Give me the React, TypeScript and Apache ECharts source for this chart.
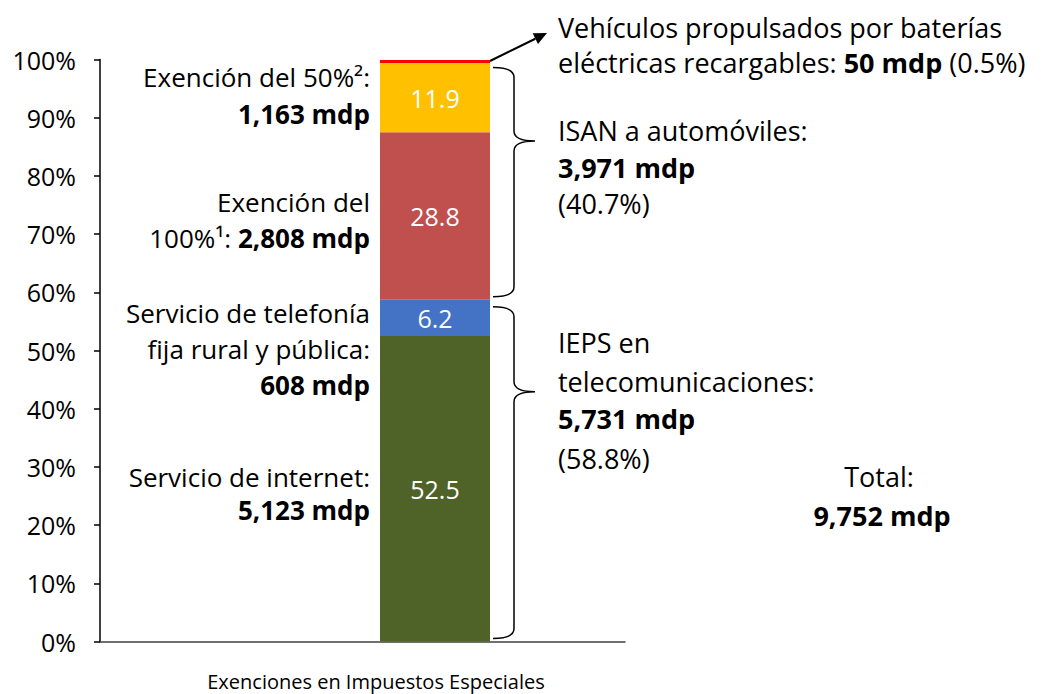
import React, { useEffect, useRef } from 'react';
import * as echarts from 'echarts';

const categories = ['Exenciones en Impuestos Especiales'];
const segmentNames = [
  'Servicio de internet',
  'Servicio de telefonía fija rural y pública',
  'Exención del 100%',
  'Exención del 50%',
  'Vehículos propulsados por baterías eléctricas recargables',
];
const shares = [52.5, 6.2, 28.8, 11.9, 0.5];
const showLabel = [true, true, true, true, false];
const segmentColors = ['#4F6228', '#4472C4', '#C0504D', '#FFC000', '#FF0000'];
const yMin = 0;
const yMax = 100;
const yInterval = 10;

const FONT = '"Open Sans", Lato, sans-serif';
const FS_AXIS = 25;
const FS_X = 20;
const FS_LEFT = 26;
const FS_RIGHT = 27;

export default function App() {
  const ref = useRef<HTMLDivElement>(null);
  useEffect(() => {
    document.body.style.margin = '0';
    const chart = echarts.init(ref.current!, null, { renderer: 'svg' });
    const gridTop = 59.5;
    const gridHeight = 582;
    chart.setOption({
      animation: false,
      backgroundColor: '#fff',
      grid: [
        { left: 100, top: gridTop, width: 525, height: gridHeight },
        { left: 380, top: gridTop, width: 110, height: gridHeight },
      ],
      xAxis: [
        {
          type: 'category',
          gridIndex: 0,
          data: categories,
          axisLine: { show: true, lineStyle: { color: '#404040', width: 1.5 } },
          axisTick: { show: false },
          axisLabel: {
            color: '#000',
            fontFamily: FONT,
            fontSize: FS_X,
            margin: 30,
            padding: [0, 0, 0, 27],
          },
        },
        { type: 'category', gridIndex: 1, data: categories, show: false },
      ],
      yAxis: [
        {
          type: 'value',
          gridIndex: 0,
          min: yMin,
          max: yMax,
          interval: yInterval,
          axisLine: { show: true, lineStyle: { color: '#000', width: 1.5 } },
          axisTick: { show: true, length: 6, lineStyle: { color: '#000', width: 1.5 } },
          splitLine: { show: false },
          axisLabel: {
            formatter: '{value}%',
            color: '#000',
            fontFamily: FONT,
            fontSize: FS_AXIS,
            margin: 24,
          },
        },
        { type: 'value', gridIndex: 1, min: yMin, max: yMax, show: false },
      ],
      series: shares.map((v, i) => ({
        name: segmentNames[i],
        type: 'bar',
        xAxisIndex: 1,
        yAxisIndex: 1,
        stack: 'total',
        barWidth: '100%',
        data: [v],
        itemStyle: { color: segmentColors[i] },
        label: {
          show: showLabel[i],
          position: 'inside',
          color: '#fff',
          fontFamily: FONT,
          fontSize: FS_AXIS,
          formatter: (p: any) => p.value.toFixed(1),
        },
      })),
    });

    const py = (v: number) =>
      (chart.convertToPixel({ xAxisIndex: 1, yAxisIndex: 1 }, [0, v]) as number[])[1];
    const cum: number[] = [];
    shares.reduce((a, v, i) => ((cum[i] = a + v), a + v), 0);
    const barRight = 490;

    const braceD = (yT: number, yB: number, tipFrac: number) => {
      const x0 = barRight + 3;
      const xm = x0 + 21;
      const xt = xm + 21;
      const r = 10;
      const yTip = yT + (yB - yT) * tipFrac;
      return `M${x0} ${yT} Q${xm} ${yT} ${xm} ${yT + r} L${xm} ${yTip - r} Q${xm} ${yTip} ${xt} ${yTip} Q${xm} ${yTip} ${xm} ${yTip + r} L${xm} ${yB - r} Q${xm} ${yB} ${x0} ${yB}`;
    };
    const topY = py(100);
    const midY = py(cum[1]);
    const botY = py(0);
    echarts.graphic.registerShape('braceA', echarts.graphic.extendPath(braceD(topY + 8, midY - 3, 0.32), {}));
    echarts.graphic.registerShape('braceB', echarts.graphic.extendPath(braceD(midY + 7, botY - 3, 0.256), {}));

    const ax0 = barRight, ay0 = py(100) + 1.5;
    const ax1 = 547, ay1 = 33;
    const dx = ax1 - ax0, dy = ay1 - ay0;
    const len = Math.sqrt(dx * dx + dy * dy);
    const ux = dx / len, uy = dy / len;
    const bx = ax1 - 13 * ux, by = ay1 - 13 * uy;
    const pxp = -uy, pyp = ux;

    const txt = (text: string, x: number, y: number, align: string, FS: number, bold = false) => ({
      type: 'text',
      x,
      y,
      style: {
        text,
        fill: '#000',
        font: `${bold ? 'bold ' : ''}${FS}px ${FONT}`,
        fontFamily: FONT,
        fontSize: FS,
        fontWeight: bold ? 'bold' : 'normal',
        textAlign: align,
        textVerticalAlign: 'middle',
        rich: {
          b: { fontFamily: FONT, fontSize: FS, fontWeight: 'bold', fill: '#000' },
          n: { fontFamily: FONT, fontSize: FS, fill: '#000' },
        },
      },
    });

    const LX = 370;
    const RX = 558;
    const L = FS_LEFT;
    const R = FS_RIGHT;
    chart.setOption({
      graphic: [
        { type: 'braceA', x: 0, y: 0, style: { stroke: '#000', fill: 'none', lineWidth: 1.5 } },
        { type: 'braceB', x: 0, y: 0, style: { stroke: '#000', fill: 'none', lineWidth: 1.5 } },
        {
          type: 'line',
          shape: { x1: ax0, y1: ay0, x2: bx, y2: by },
          style: { stroke: '#000', lineWidth: 2 },
        },
        {
          type: 'polygon',
          shape: {
            points: [
              [ax1, ay1],
              [bx + 6 * pxp, by + 6 * pyp],
              [bx - 6 * pxp, by - 6 * pyp],
            ],
          },
          style: { fill: '#000' },
        },
        txt('Exención del 50%²:', LX, 77, 'right', L),
        txt('1,163 mdp', LX, 114, 'right', L, true),
        txt('Exención del', LX, 202, 'right', L),
        txt('{n|100%¹: }{b|2,808 mdp}', LX, 238, 'right', L),
        txt('Servicio de telefonía', LX, 313, 'right', L),
        txt('fija rural y pública:', LX, 349, 'right', L),
        txt('608 mdp', LX, 385, 'right', L, true),
        txt('Servicio de internet:', LX, 477, 'right', L),
        txt('5,123 mdp', LX, 510, 'right', L, true),
        txt('Vehículos propulsados por baterías', RX, 27, 'left', R),
        txt('{n|eléctricas recargables: }{b|50 mdp}{n| (0.5%)}', RX, 62, 'left', R),
        txt('ISAN a automóviles:', RX, 130, 'left', R),
        txt('3,971 mdp', RX, 167, 'left', R, true),
        txt('(40.7%)', RX, 203, 'left', R),
        txt('IEPS en', RX, 342, 'left', R),
        txt('telecomunicaciones:', RX, 381, 'left', R),
        txt('5,731 mdp', RX, 418, 'left', R, true),
        txt('(58.8%)', RX, 458, 'left', R),
        txt('Total:', 879, 476, 'center', R),
        txt('9,752 mdp', 882, 515, 'center', R, true),
      ],
    });
    return () => chart.dispose();
  }, []);
  return <div ref={ref} style={{ width: 1041, height: 694 }} />;
}
